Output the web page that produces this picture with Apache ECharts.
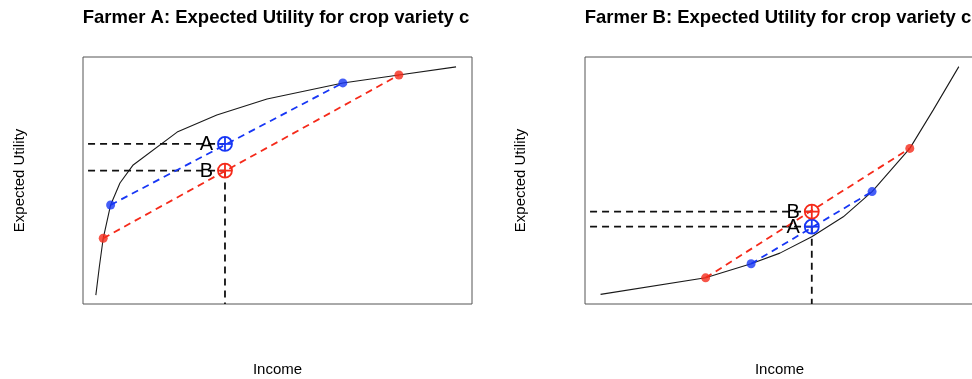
<!DOCTYPE html>
<html><head><meta charset="utf-8">
<script src="https://cdn.jsdelivr.net/npm/echarts@6/dist/echarts.min.js"></script>
<style>html,body{margin:0;padding:0;background:#fff}#c{width:972px;height:379px}</style>
</head><body><div id="c"></div>
<script>
// Panel titles and axis names
const titles = ['Farmer A: Expected Utility for crop variety c', 'Farmer B: Expected Utility for crop variety c'];
const xName = 'Income';
const yName = 'Expected Utility';

// Farmer A (concave utility) — values in 0..100 plot units
const curveAX = [3.3, 4.2, 5.2, 7.1, 9.5, 12.9, 24.2, 34.4, 47.3, 66.8, 81.2, 95.9];
const curveAY = [3.6, 15.1, 26.6, 40.1, 49.0, 56.3, 69.6, 76.5, 83.0, 89.5, 92.7, 96.0];
const blueAX = [7.1, 66.8];
const blueAY = [40.1, 89.5];
const redAX = [5.2, 81.2];
const redAY = [26.6, 92.7];
const expAX = 36.5;         // expected income
const expAY = [64.8, 54.0]; // A, B expected utility
const labelsA = ['A', 'B'];

// Farmer B (convex utility)
const curveBX = [4.0, 31.0, 42.7, 50.1, 58.3, 66.4, 73.8, 83.5, 89.5, 96.1];
const curveBY = [3.9, 10.6, 16.3, 20.6, 27.2, 35.3, 45.5, 63.0, 78.5, 96.1];
const blueBX = [42.7, 73.8];
const blueBY = [16.3, 45.5];
const redBX = [31.0, 83.5];
const redBY = [10.6, 63.0];
const expBX = 58.3;
const expBY = [31.3, 37.4]; // A, B
const labelsB = ['A', 'B'];

const hStart = 1.3;
const BLUE = '#1736f5', RED = '#f52a1a';
const FONT = '"Liberation Sans", Arial, sans-serif';

function zip(xs, ys) { return xs.map((x, i) => [x, ys[i]]); }

function panel(idx, cx, cy, bx, by, rx, ry, ex, ey, labels) {
  const base = { xAxisIndex: idx, yAxisIndex: idx, silent: true, animation: false };
  const dash = [7, 5];
  const s = [];
  s.push(Object.assign({}, base, { type: 'line', data: zip(cx, cy), showSymbol: false,
    lineStyle: { color: '#1a1a1a', width: 1.1 }, z: 2 }));
  // horizontal guide lines
  ey.forEach(v => s.push(Object.assign({}, base, { type: 'line', data: [[hStart, v], [ex, v]],
    showSymbol: false, lineStyle: { color: '#111', width: 1.8, type: dash }, z: 3 })));
  // vertical guide from lower marker
  s.push(Object.assign({}, base, { type: 'line', data: [[ex, Math.min(...ey)], [ex, 0]],
    showSymbol: false, lineStyle: { color: '#111', width: 1.8, type: dash }, z: 3 }));
  s.push(Object.assign({}, base, { type: 'line', data: zip(bx, by), showSymbol: false,
    lineStyle: { color: BLUE, width: 1.8, type: dash }, z: 4 }));
  s.push(Object.assign({}, base, { type: 'line', data: zip(rx, ry), showSymbol: false,
    lineStyle: { color: RED, width: 1.8, type: dash }, z: 4 }));
  s.push(Object.assign({}, base, { type: 'scatter', data: zip(bx, by), symbolSize: 9,
    itemStyle: { color: BLUE }, z: 5 }));
  s.push(Object.assign({}, base, { type: 'scatter', data: zip(rx, ry), symbolSize: 9,
    itemStyle: { color: RED }, z: 5 }));
  // circled-plus markers with labels
  const cols = [BLUE, RED];
  s.push(Object.assign({}, base, { type: 'custom', z: 6,
    data: ey.map((v, i) => [ex, v, i]),
    renderItem: function (params, api) {
      const p = api.coord([api.value(0), api.value(1)]);
      const i = api.value(2);
      const c = cols[i], r = 7;
      return { type: 'group', children: [
        { type: 'circle', shape: { cx: p[0], cy: p[1], r: r }, style: { fill: 'none', stroke: c, lineWidth: 1.8 } },
        { type: 'line', shape: { x1: p[0] - r, y1: p[1], x2: p[0] + r, y2: p[1] }, style: { stroke: c, lineWidth: 1.8 } },
        { type: 'line', shape: { x1: p[0], y1: p[1] - r, x2: p[0], y2: p[1] + r }, style: { stroke: c, lineWidth: 1.8 } },
        { type: 'text', style: { text: labels[i], x: p[0] - 12, y: p[1] + 1, textAlign: 'right', textVerticalAlign: 'middle',
          font: '20px ' + FONT, fill: '#000' } }
      ]};
    }
  }));
  return s;
}

const chart = echarts.init(document.getElementById('c'), null, { renderer: 'canvas' });
const axisCommon = { type: 'value', min: 0, max: 100, axisLine: { show: false }, axisTick: { show: false },
  axisLabel: { show: false }, splitLine: { show: false } };
const nameStyle = { fontFamily: FONT, color: '#000' };
const titleStyle = { fontFamily: FONT, fontSize: 18.5, fontWeight: 'bold', color: '#000' };
chart.setOption({
  animation: false,
  title: [
    { text: titles[0], left: 271, top: 3, textAlign: 'center', textStyle: titleStyle },
    { text: titles[1], left: 773, top: 3, textAlign: 'center', textStyle: titleStyle }
  ],
  grid: [
    { left: 83, top: 57, width: 389, height: 247, show: true, borderColor: '#555', borderWidth: 1,
      backgroundColor: 'transparent', containLabel: false, outerBoundsMode: 'none' },
    { left: 585, top: 57, width: 389, height: 247, show: true, borderColor: '#555', borderWidth: 1,
      backgroundColor: 'transparent', containLabel: false, outerBoundsMode: 'none' }
  ],
  xAxis: [
    Object.assign({}, axisCommon, { gridIndex: 0, name: xName, nameLocation: 'middle', nameGap: 58,
      nameTextStyle: Object.assign({ fontSize: 15 }, nameStyle) }),
    Object.assign({}, axisCommon, { gridIndex: 1, name: xName, nameLocation: 'middle', nameGap: 58,
      nameTextStyle: Object.assign({ fontSize: 15 }, nameStyle) })
  ],
  yAxis: [
    Object.assign({}, axisCommon, { gridIndex: 0, name: yName, nameLocation: 'middle', nameGap: 56,
      nameTextStyle: Object.assign({ fontSize: 15 }, nameStyle) }),
    Object.assign({}, axisCommon, { gridIndex: 1, name: yName, nameLocation: 'middle', nameGap: 57,
      nameTextStyle: Object.assign({ fontSize: 15 }, nameStyle) })
  ],
  series: [].concat(
    panel(0, curveAX, curveAY, blueAX, blueAY, redAX, redAY, expAX, expAY, labelsA),
    panel(1, curveBX, curveBY, blueBX, blueBY, redBX, redBY, expBX, expBY, labelsB)
  )
});
</script></body></html>
